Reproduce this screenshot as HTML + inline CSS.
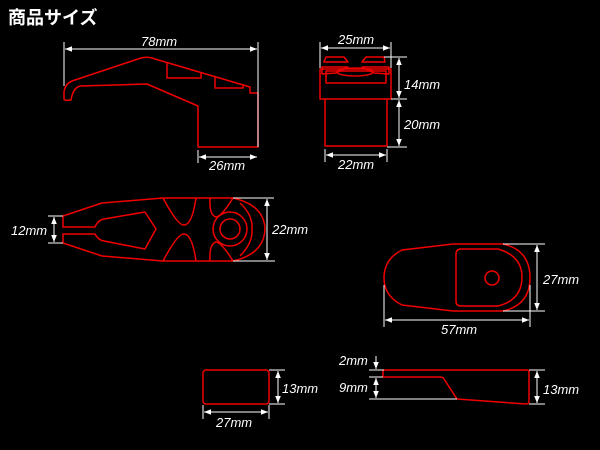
<!DOCTYPE html>
<html><head><style>
html,body{margin:0;padding:0;background:#000;width:600px;height:450px;overflow:hidden}
svg{display:block}
text{font-family:"Liberation Sans",sans-serif;font-style:italic;font-size:13px;fill:#fff}
.r{fill:none;stroke:#f00000;stroke-width:1.5;stroke-linejoin:round}
.w{stroke:#fff;stroke-width:1;fill:none}
</style></head><body>
<svg width="600" height="450" viewBox="0 0 600 450">
<defs>
<marker id="a" viewBox="0 0 10 10" refX="10" refY="5" markerWidth="7" markerHeight="7" orient="auto-start-reverse"><path d="M0,1 L10,5 L0,9 z" fill="#fff"/></marker>
</defs>
<text x="8" y="24" style="font-style:normal;font-weight:bold;font-size:18px;font-family:'Liberation Sans','Noto Sans CJK JP',sans-serif">商品サイズ</text>

<path class="r" d="M64,92 L64,99 Q65,101 70,100 L71,100 Q73,88 80,86 L147,84 L198,106 L198,147 L258,147 L258,93 L250,93 L250,87 L155,59 Q148,56 141,58 L72,81 Q65,84 64,92 Z"/>
<path class="r" d="M167,63 L167,78 L201,78 L201,72"/>
<path class="r" d="M215,77 L215,88 L243,88 L243,85"/>
<line class="w" x1="64" y1="42" x2="64" y2="86"/>
<line class="w" x1="258" y1="42" x2="258" y2="147"/>
<line class="w" x1="65" y1="49" x2="257" y2="49" marker-start="url(#a)" marker-end="url(#a)"/>
<text x="141" y="46">78mm</text>
<line class="w" x1="198" y1="150" x2="198" y2="163"/>
<line class="w" x1="199" y1="157" x2="257" y2="157" marker-start="url(#a)" marker-end="url(#a)"/>
<text x="209" y="170">26mm</text>

<rect class="r" x="320" y="69" width="71" height="30"/>
<rect class="r" x="326" y="71" width="60" height="12"/>
<path class="r" d="M324,62 L348,62 L344,57 L326,57 Z M385,62 L362,62 L366,57 L384,57 Z"/>
<path class="r" d="M322,67 L348,67 L336,73 L322,74 Z M389,67 L362,67 L374,73 L389,74 Z"/>
<ellipse class="r" cx="355" cy="72" rx="18" ry="4"/>
<path class="r" d="M325,99 L325,146 L387,146 L387,99"/>
<line class="w" x1="320" y1="42" x2="320" y2="68"/>
<line class="w" x1="391" y1="42" x2="391" y2="68"/>
<line class="w" x1="321" y1="48" x2="390" y2="48" marker-start="url(#a)" marker-end="url(#a)"/>
<text x="338" y="44">25mm</text>
<line class="w" x1="384" y1="57" x2="407" y2="57"/>
<line class="w" x1="391" y1="99" x2="407" y2="99"/>
<line class="w" x1="387" y1="147" x2="407" y2="147"/>
<line class="w" x1="399" y1="58" x2="399" y2="98" marker-start="url(#a)" marker-end="url(#a)"/>
<line class="w" x1="399" y1="100" x2="399" y2="146" marker-start="url(#a)" marker-end="url(#a)"/>
<text x="404" y="89">14mm</text>
<text x="404" y="129">20mm</text>
<line class="w" x1="325" y1="149" x2="325" y2="162"/>
<line class="w" x1="387" y1="149" x2="387" y2="162"/>
<line class="w" x1="326" y1="155" x2="386" y2="155" marker-start="url(#a)" marker-end="url(#a)"/>
<text x="338" y="169">22mm</text>

<path class="r" d="M63,216 L102,203 L163,198 L233,198 Q264,205 265,229 Q264,254 233,261 L163,261 L102,256 L63,243 L63,234 L95,234 Q98,240 104,241 L145,249 L156,229 L145,212 L104,219 Q98,220 95,227 L63,227 Z"/>
<path class="r" d="M163,198 Q178,226 184,225 Q192,225 196,198 M163,261 Q178,233 184,234 Q192,234 196,261"/>
<path class="r" d="M210,198 Q209,215 216,217 Q222,216 233,198 M210,261 Q209,244 216,242 Q222,243 233,261"/>
<path class="r" d="M240,203 Q253,215 252,229 Q253,243 240,256"/>
<circle class="r" cx="230" cy="229" r="17"/>
<circle class="r" cx="230" cy="229" r="10"/>
<line class="w" x1="48" y1="216" x2="63" y2="216"/>
<line class="w" x1="48" y1="243" x2="63" y2="243"/>
<line class="w" x1="54" y1="217" x2="54" y2="242" marker-start="url(#a)" marker-end="url(#a)"/>
<text x="11" y="235">12mm</text>
<line class="w" x1="233" y1="198" x2="274" y2="198"/>
<line class="w" x1="233" y1="261" x2="275" y2="261"/>
<line class="w" x1="267" y1="199" x2="267" y2="260" marker-start="url(#a)" marker-end="url(#a)"/>
<text x="272" y="234">22mm</text>

<path class="r" d="M453,244 L503,244 Q530,250 530,278 Q530,305 503,311 L453,311 L402,305 Q384,296 384,278 Q384,259 402,250 Z"/>
<path class="r" d="M461,249 L498,249 Q522,256 522,277 Q522,300 498,306 L461,306 Q456,306 456,301 L456,254 Q456,249 461,249 Z"/>
<circle class="r" cx="492" cy="278" r="7"/>
<line class="w" x1="503" y1="244" x2="545" y2="244"/>
<line class="w" x1="503" y1="311" x2="545" y2="311"/>
<line class="w" x1="537" y1="245" x2="537" y2="310" marker-start="url(#a)" marker-end="url(#a)"/>
<text x="543" y="284">27mm</text>
<line class="w" x1="384" y1="285" x2="384" y2="327"/>
<line class="w" x1="530" y1="285" x2="530" y2="327"/>
<line class="w" x1="385" y1="320" x2="529" y2="320" marker-start="url(#a)" marker-end="url(#a)"/>
<text x="441" y="334">57mm</text>

<rect class="r" x="203" y="370" width="66" height="34" rx="3"/>
<line class="w" x1="269" y1="370" x2="285" y2="370"/>
<line class="w" x1="269" y1="404" x2="285" y2="404"/>
<line class="w" x1="278" y1="371" x2="278" y2="403" marker-start="url(#a)" marker-end="url(#a)"/>
<text x="282" y="393">13mm</text>
<line class="w" x1="203" y1="405" x2="203" y2="419"/>
<line class="w" x1="269" y1="405" x2="269" y2="419"/>
<line class="w" x1="204" y1="412" x2="268" y2="412" marker-start="url(#a)" marker-end="url(#a)"/>
<text x="216" y="427">27mm</text>

<path class="r" d="M384,370 L527,370 Q529,370 529,373 L529,401 Q529,404 526,404 L457,399 L444,379 Q443,377 440,377 L383,377 L383,372 Q383,370 385,370 Z"/>
<line class="w" x1="369" y1="370" x2="384" y2="370"/>
<line class="w" x1="369" y1="377" x2="383" y2="377"/>
<line class="w" x1="369" y1="399" x2="457" y2="399"/>
<line class="w" x1="376" y1="356" x2="376" y2="369" marker-end="url(#a)"/>
<line class="w" x1="376" y1="384" x2="376" y2="378" marker-end="url(#a)"/>
<line class="w" x1="376" y1="385" x2="376" y2="398" marker-end="url(#a)"/>
<text x="339" y="365">2mm</text>
<text x="339" y="392">9mm</text>
<line class="w" x1="529" y1="370" x2="545" y2="370"/>
<line class="w" x1="529" y1="404" x2="545" y2="404"/>
<line class="w" x1="537" y1="371" x2="537" y2="403" marker-start="url(#a)" marker-end="url(#a)"/>
<text x="543" y="394">13mm</text>
</svg>
</body></html>
